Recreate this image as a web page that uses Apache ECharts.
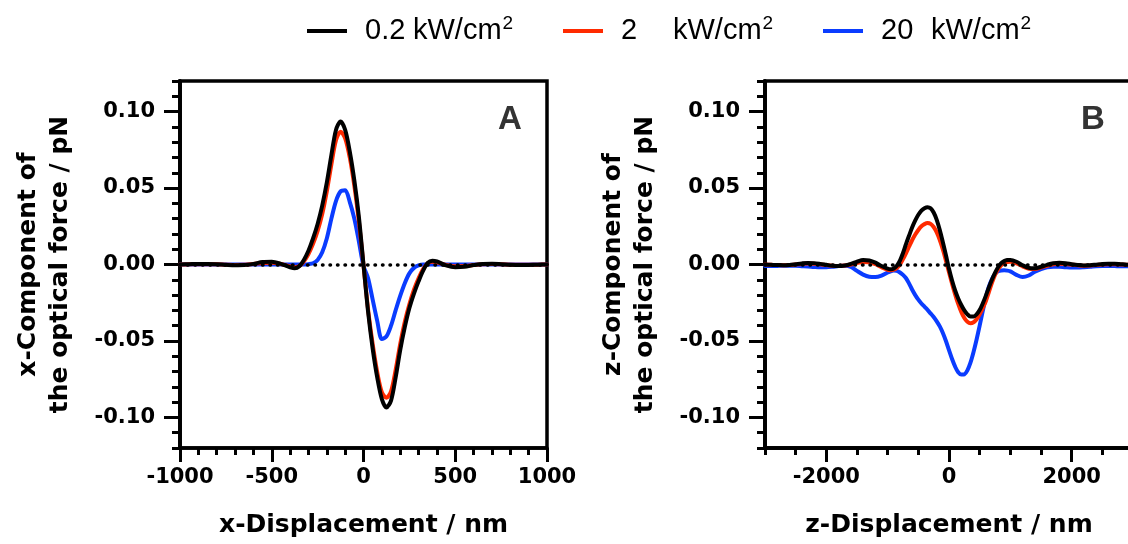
<!DOCTYPE html>
<html><head><meta charset="utf-8">
<script src="https://cdn.jsdelivr.net/npm/echarts@6/dist/echarts.min.js"></script>
<style>html,body{margin:0;padding:0;background:#fff}#c{width:1128px;height:544px}</style>
</head><body><div id="c"></div><script>
// ---------- data ----------
const powerLabels = ['0.2', '2', '20'];
const unitText = 'kW/cm';
const colors = ['#000000', '#ff2a00', '#0a3cff'];

const xA = [-1000,-950,-900,-850,-800,-750,-700,-650,-600,-550,-500,-450,-400,
  -375,-350,-325,-300,-275,-250,-225,-200,-175,-150,-125,-100,-75,-50,-25,0,
  25,50,75,100,125,150,175,200,225,250,275,300,325,350,375,
  400,450,500,550,600,650,700,750,800,850,900,950,1000];
const blackA = [0,0.0002,0.0004,0.0004,0.0002,-0.0002,-0.0005,-0.0004,0.0004,0.0016,0.0018,0.0004,-0.0018,
  -0.0025,-0.0012,0.0030,0.0090,0.0170,0.0265,0.0385,0.0535,0.0715,0.0880,0.0935,0.0880,0.0740,0.0550,0.0310,0.0000,
  -0.0310,-0.0550,-0.0740,-0.0880,-0.0935,-0.0890,-0.0740,-0.0560,-0.0410,-0.0285,-0.0190,-0.0110,-0.0040,0.0010,0.0025,
  0.0020,-0.0006,-0.0018,-0.0015,-0.0004,0.0004,0.0005,0.0002,-0.0002,-0.0004,-0.0003,-0.0001,0.0000];
const redA = [0,0.0001,0.0002,0.0002,0.0001,-0.0001,-0.0003,-0.0002,0.0003,0.0010,0.0012,0.0003,-0.0012,
  -0.0018,-0.0010,0.0020,0.0068,0.0135,0.0220,0.0330,0.0478,0.0655,0.0812,0.0868,0.0825,0.0700,0.0515,0.0280,-0.0005,
  -0.0295,-0.0520,-0.0705,-0.0835,-0.0872,-0.0830,-0.0690,-0.0520,-0.0375,-0.0260,-0.0165,-0.0090,-0.0030,0.0008,0.0018,
  0.0014,-0.0003,-0.0012,-0.0010,-0.0003,0.0002,0.0003,0.0001,-0.0001,-0.0002,-0.0002,-0.0001,0.0000];
const blueA = [0,0,0,0,0,0,0,0,0,0,0,0,0,
  0,0,0,0.0002,0.0008,0.0030,0.0080,0.0170,0.0300,0.0415,0.0478,0.0485,0.0410,0.0300,0.0150,-0.0010,
  -0.0090,-0.0230,-0.0370,-0.0488,-0.0470,-0.0400,-0.0300,-0.0205,-0.0122,-0.0058,-0.0022,-0.0006,0,0,0,
  0,0,0,0,0,0,0,0,0,0,0,0,0];

const xB = [-3000,-2900,-2800,-2700,-2600,-2500,-2400,-2300,-2200,-2100,-2000,-1900,-1800,-1700,-1600,-1500,-1400,-1300,-1200,-1100,
  -1000,-950,-900,-850,-800,-750,-700,-650,-600,-550,-500,-450,-400,-350,-300,-250,-200,-150,-100,-50,0,
  50,100,150,200,250,300,350,400,450,500,550,600,650,700,750,800,850,900,950,1000,
  1100,1200,1300,1400,1500,1600,1700,1800,1900,2000,2100,2200,2300,2400,2500,2600,2700,2800,2900,3000];
const blackB = [0,-0.0002,-0.0004,-0.0005,-0.0003,0.0002,0.0007,0.0010,0.0009,0.0004,-0.0002,-0.0008,-0.0010,-0.0006,0.0004,0.0018,0.0030,0.0026,0.0012,-0.0010,
  -0.0027,-0.0031,-0.0026,-0.0008,0.0025,0.0075,0.0135,0.0190,0.0243,0.0288,0.0325,0.0352,0.0368,0.0375,0.0368,0.0340,0.0292,0.0225,0.0145,0.0060,-0.0028,
  -0.0105,-0.0170,-0.0222,-0.0265,-0.0300,-0.0326,-0.0340,-0.0340,-0.0326,-0.0298,-0.0255,-0.0205,-0.0150,-0.0100,-0.0055,-0.0018,0.0008,0.0022,0.0029,0.0030,
  0.0018,-0.0005,-0.0022,-0.0025,-0.0015,-0.0002,0.0008,0.0011,0.0008,0.0002,-0.0003,-0.0006,-0.0005,-0.0001,0.0003,0.0005,0.0005,0.0002,-0.0001,-0.0002];
const redB = [0,-0.0002,-0.0004,-0.0005,-0.0004,0,0.0004,0.0006,0.0005,0.0001,-0.0004,-0.0008,-0.0010,-0.0007,0,0.0010,0.0016,0.0014,0.0002,-0.0018,
  -0.0035,-0.0038,-0.0034,-0.0022,0.0000,0.0035,0.0075,0.0118,0.0160,0.0196,0.0226,0.0250,0.0264,0.0271,0.0266,0.0245,0.0210,0.0160,0.0098,0.0025,-0.0050,
  -0.0125,-0.0195,-0.0258,-0.0310,-0.0350,-0.0375,-0.0384,-0.0378,-0.0358,-0.0325,-0.0285,-0.0240,-0.0180,-0.0120,-0.0068,-0.0030,-0.0005,0.0010,0.0016,0.0018,
  0.0008,-0.0012,-0.0028,-0.0030,-0.0020,-0.0008,0.0002,0.0005,0.0003,-0.0001,-0.0005,-0.0008,-0.0007,-0.0004,0,0.0002,0.0002,0,-0.0002,-0.0003];
const blueB = [-0.0010,-0.0010,-0.0009,-0.0008,-0.0008,-0.0009,-0.0011,-0.0013,-0.0016,-0.0018,-0.0018,-0.0015,-0.0010,-0.0008,-0.0015,-0.0042,-0.0066,-0.0080,-0.0082,-0.0072,
  -0.0052,-0.0044,-0.0040,-0.0042,-0.0052,-0.0068,-0.0090,-0.0125,-0.0165,-0.0200,-0.0230,-0.0255,-0.0276,-0.0297,-0.0320,-0.0343,-0.0372,-0.0405,-0.0448,-0.0500,-0.0560,
  -0.0618,-0.0668,-0.0705,-0.0720,-0.0718,-0.0692,-0.0642,-0.0572,-0.0490,-0.0400,-0.0305,-0.0215,-0.0145,-0.0095,-0.0062,-0.0045,-0.0039,-0.0038,-0.0040,-0.0045,
  -0.0068,-0.0082,-0.0072,-0.0048,-0.0030,-0.0018,-0.0014,-0.0015,-0.0018,-0.0020,-0.0020,-0.0018,-0.0015,-0.0011,-0.0009,-0.0009,-0.0010,-0.0012,-0.0012,-0.0011];

const yMajorTicks = [-0.1, -0.05, 0, 0.05, 0.1];
const xBMajorTicks = [-2000, 0, 2000];

// ---------- styles ----------
const BOLD = 'DejaVu Sans';
const tickFont = {fontFamily: BOLD, fontWeight: 'bold', fontSize: 21, color: '#000'};
const titleFont = {fontFamily: BOLD, fontWeight: 'bold', fontSize: 25, color: '#000', lineHeight: 32};
const axisLine = {show: true, onZero: false, lineStyle: {color: '#000', width: 3.5}};
const tickStyle = {color: '#000', width: 3};

const seriesNames = powerLabels.map(p => p + ' kW/cm²');
const pairs = (xs, ys) => xs.map((x, i) => [x, ys[i]]);

function minorY(grid) {
  return {gridIndex: grid, type: 'value', position: 'left', min: -0.12, max: 0.12, interval: 0.01,
    axisLine: axisLine, axisTick: {show: true, length: 8, lineStyle: tickStyle},
    axisLabel: {show: false}, splitLine: {show: false}};
}
function majorY(grid, name) {
  return {gridIndex: grid, type: 'value', position: 'left', min: -0.12, max: 0.12,
    axisLine: axisLine,
    axisTick: {show: true, length: 16, lineStyle: tickStyle, customValues: yMajorTicks},
    axisLabel: Object.assign({margin: 25, customValues: yMajorTicks, formatter: v => v.toFixed(2)}, tickFont),
    splitLine: {show: false},
    name: name, nameLocation: 'middle', nameRotate: 90, nameGap: 104, nameTextStyle: titleFont};
}

const lineSeries = (name, data, color, xi, yi, extra) => Object.assign({
  name: name, type: 'line', data: data, xAxisIndex: xi, yAxisIndex: yi,
  smooth: 0.3, showSymbol: false, symbol: 'none',
  lineStyle: {color: color, width: 4, join: 'round', cap: 'round'}, itemStyle: {color: color}
}, extra || {});

const zeroMark = {silent: true, symbol: ['none', 'none'], label: {show: false},
  lineStyle: {color: '#000', width: 3.5, type: [0.5, 7], cap: 'round'},
  data: [{yAxis: 0}]};

function legendFor(i, left, valueWidth) {
  return {
    left: left, top: 9, itemWidth: 40, itemHeight: 4, icon: 'rect',
    data: [seriesNames[i]],
    formatter: () => '{v|' + powerLabels[i] + '}{u|' + unitText + '}{s|2}',
    textStyle: {fontFamily: 'Liberation Sans', fontSize: 29, color: '#000',
      rich: {
        v: {fontFamily: 'Liberation Sans', fontSize: 29, lineHeight: 34, padding: [0, 0, 0, 13], width: valueWidth},
        u: {fontFamily: 'Liberation Sans', fontSize: 29, lineHeight: 34},
        s: {fontFamily: 'Liberation Sans', fontSize: 19, lineHeight: 19, verticalAlign: 'top', padding: [0, 0, 0, 1]}
      }}
  };
}

const numFmt = v => String(v);

const chart = echarts.init(document.getElementById('c'), null, {renderer: 'canvas'});
chart.setOption({
  animation: false,
  backgroundColor: '#fff',
  legend: [legendFor(0, 302, 48), legendFor(1, 558, 52), legendFor(2, 818, 50)],
  grid: [
    {left: 180, top: 81, width: 367, height: 367, outerBoundsMode: 'none', containLabel: false,
      show: true, borderColor: '#000', borderWidth: 3.5, backgroundColor: 'transparent'},
    {left: 765, top: 81, width: 368, height: 367, outerBoundsMode: 'none', containLabel: false,
      show: true, borderColor: '#000', borderWidth: 3.5, backgroundColor: 'transparent'}
  ],
  xAxis: [
    {gridIndex: 0, type: 'value', position: 'bottom', min: -1000, max: 1000, interval: 500,
      axisLine: axisLine, axisTick: {show: true, length: 14, lineStyle: tickStyle},
      minorTick: {show: true, splitNumber: 5, length: 7, lineStyle: tickStyle},
      splitLine: {show: false}, minorSplitLine: {show: false},
      axisLabel: Object.assign({margin: 19, showMinLabel: true, showMaxLabel: true, formatter: numFmt}, tickFont),
      name: 'x-Displacement / nm', nameLocation: 'middle', nameGap: 61, nameTextStyle: titleFont},
    {gridIndex: 1, type: 'value', position: 'bottom', min: -3000, max: 3000, interval: 500,
      axisLine: axisLine, axisTick: {show: true, length: 7, lineStyle: tickStyle},
      axisLabel: {show: false}, splitLine: {show: false}},
    {gridIndex: 1, type: 'value', position: 'bottom', min: -3000, max: 3000,
      axisLine: axisLine,
      axisTick: {show: true, length: 14, lineStyle: tickStyle, customValues: xBMajorTicks},
      axisLabel: Object.assign({margin: 19, customValues: xBMajorTicks, formatter: numFmt}, tickFont),
      splitLine: {show: false},
      name: 'z-Displacement / nm', nameLocation: 'middle', nameGap: 61, nameTextStyle: titleFont}
  ],
  yAxis: [
    minorY(0), majorY(0, 'x-Component of\nthe optical force / pN'),
    minorY(1), majorY(1, 'z-Component of\nthe optical force / pN')
  ],
  graphic: [
    {type: 'text', x: 510, y: 120, style: {text: 'A', fontFamily: 'Liberation Sans', fontWeight: 'bold', fontSize: 33, fill: '#333', align: 'center', verticalAlign: 'middle'}},
    {type: 'text', x: 1093, y: 120, style: {text: 'B', fontFamily: 'Liberation Sans', fontWeight: 'bold', fontSize: 33, fill: '#333', align: 'center', verticalAlign: 'middle'}}
  ],
  series: [
    lineSeries(seriesNames[2], pairs(xA, blueA), colors[2], 0, 0, {markLine: zeroMark}),
    lineSeries(seriesNames[1], pairs(xA, redA), colors[1], 0, 0),
    lineSeries(seriesNames[0], pairs(xA, blackA), colors[0], 0, 0),
    lineSeries(seriesNames[2], pairs(xB, blueB), colors[2], 1, 2, {markLine: zeroMark}),
    lineSeries(seriesNames[1], pairs(xB, redB), colors[1], 1, 2),
    lineSeries(seriesNames[0], pairs(xB, blackB), colors[0], 1, 2)
  ]
});
</script></body></html>
